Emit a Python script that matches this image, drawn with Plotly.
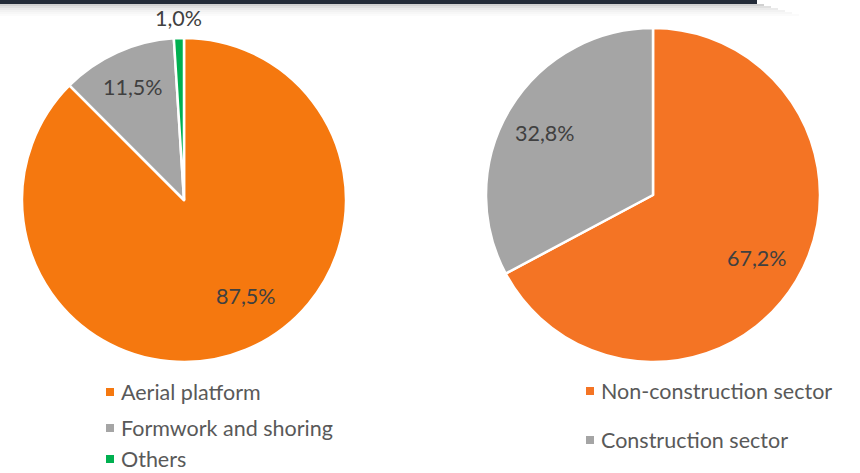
import plotly.graph_objects as go

# Left pie: share by product line
equip_labels = ["Aerial platform", "Formwork and shoring", "Others"]
equip_values = [87.5, 11.5, 1.0]
equip_colors = ["#F5780F", "#A5A5A5", "#00B050"]

# Right pie: share by customer sector
sector_labels = ["Non-construction sector", "Construction sector"]
sector_values = [67.2, 32.8]
sector_colors = ["#F47424", "#A5A5A5"]

W, H = 860, 473


def px(x):
    return x / W


def py(y):
    return 1 - y / H


def pct(v):
    return f"{v:.1f}".replace(".", ",") + "%"


fig = go.Figure()

fig.add_trace(go.Pie(
    labels=equip_labels, values=equip_values, sort=False, direction="clockwise",
    rotation=0, marker=dict(colors=equip_colors, line=dict(color="white", width=2.5)),
    textinfo="none", hoverinfo="label+percent", showlegend=False,
    domain=dict(x=[px(22), px(346)], y=[py(362), py(38)]),
))
fig.add_trace(go.Pie(
    labels=sector_labels, values=sector_values, sort=False, direction="clockwise",
    rotation=0, marker=dict(colors=sector_colors, line=dict(color="white", width=2.5)),
    textinfo="none", hoverinfo="label+percent", showlegend=False,
    domain=dict(x=[px(486), px(820)], y=[py(362), py(28)]),
))

label_font = dict(family="Lato, Calibri, sans-serif", size=21.5, color="#404040")
legend_font = dict(family="Lato, Calibri, sans-serif", size=21.5, color="#595959")

annotations = []
shapes = []

# Data labels
equip_label_pos = [(246, 296), (133, 87), (178, 18)]
sector_label_pos = [(757, 258), (545, 133)]
for vals, positions in ((equip_values, equip_label_pos), (sector_values, sector_label_pos)):
    for v, (x, y) in zip(vals, positions):
        annotations.append(dict(x=px(x), y=py(y), xref="paper", yref="paper",
                                text=pct(v), showarrow=False, font=label_font,
                                xanchor="center", yanchor="middle", borderpad=0))

# Legends drawn as square swatches with text
def add_legend(labels, colors, sq_x, text_x, ys):
    for lab, col, y in zip(labels, colors, ys):
        shapes.append(dict(type="rect", xref="paper", yref="paper",
                           x0=px(sq_x - 4), x1=px(sq_x + 4), y0=py(y + 4), y1=py(y - 4),
                           fillcolor=col, line=dict(width=0)))
        annotations.append(dict(x=px(text_x), y=py(y), xref="paper", yref="paper",
                                text=lab, showarrow=False, font=legend_font,
                                xanchor="left", yanchor="middle", borderpad=0))

add_legend(equip_labels, equip_colors, 110, 120, [392, 428, 459])
add_legend(sector_labels, sector_colors, 590, 600, [391, 440])

# Header bar with soft shadow
for i, op in enumerate([0.18, 0.12, 0.08, 0.05, 0.03, 0.015]):
    shapes.append(dict(type="rect", xref="paper", yref="paper",
                       x0=0, x1=px(757 + 7 * (i + 1)), y0=py(4 + 2 * (i + 1)), y1=py(4 + 2 * i),
                       fillcolor=f"rgba(0,0,0,{op})", line=dict(width=0), layer="below"))
shapes.append(dict(type="rect", xref="paper", yref="paper",
                   x0=0, x1=px(757), y0=py(4), y1=1,
                   fillcolor="#232B38", line=dict(width=0)))

fig.update_layout(
    width=W, height=H, margin=dict(l=0, r=0, t=0, b=0),
    paper_bgcolor="white", plot_bgcolor="white",
    annotations=annotations, shapes=shapes, showlegend=False,
)

fig.write_html("out.html")
